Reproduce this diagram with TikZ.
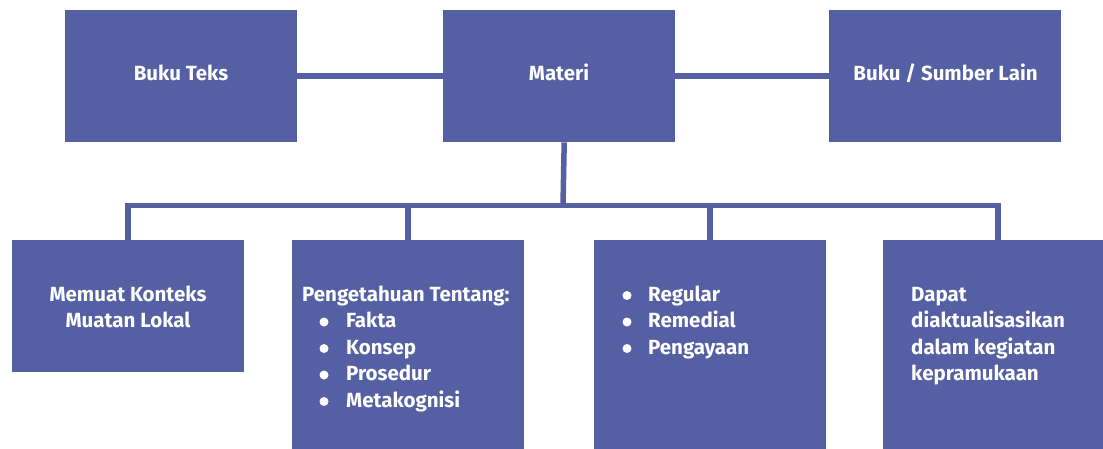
\documentclass[tikz,border=0pt]{standalone}
\usepackage{fontspec}
\setmainfont{Fira Sans}
\usetikzlibrary{calc}
\definecolor{boxblue}{RGB}{84,95,164}
\begin{document}
\begin{tikzpicture}[x=1pt,y=-1pt,
  box/.style={fill=boxblue, draw=none, inner sep=0pt, anchor=north west,
    minimum width=232, minimum height=132},
  tall/.style={box, minimum height=240},
  link/.style={draw=boxblue, line width=5.5pt, line join=miter},
  lbl/.style={text=white, font=\bfseries\fontsize{20.5}{26}\selectfont, inner sep=0pt},
  item/.style={lbl, anchor=base west},
  dot/.style={circle, fill=white, minimum size=9, inner sep=0pt}]
\useasboundingbox (0,0) rectangle (1103,448);

% top row
\node[box] (bt) at (65,10) {};
\node[box] (mat) at (443,10) {};
\node[box] (bs) at (829,10) {};
% bottom row; the three tall boxes run past the lower edge
\node[box] (ml) at (12,240) {};
\node[tall] (pe) at (292,240) {};
\node[tall] (rg) at (594,240) {};
\node[tall] (dp) at (883,240) {};

% connectors
\coordinate (bus) at (563,205.5);
\draw[link] (bt.east) -- (mat.west);
\draw[link] (mat.east) -- (bs.west);
\draw[link] ($(mat.south)+(5,0)$) -- (bus);
\draw[link] (ml.north) -- (ml.north |- bus) -- ($(dp.north |- bus)+(-1,0)$) -- ($(dp.north)+(-1,0)$);
\draw[link] (pe.north |- bus) -- (pe.north);
\draw[link] (rg.north |- bus) -- (rg.north);

% top labels
\node[lbl, anchor=base] (tbt) at (181,80) {Buku Teks};
\node[lbl, anchor=base] (tmat) at (559,80) {Materi};
\node[lbl, anchor=base] (tbs) at (945.5,80) {Buku / Sumber Lain};

% Memuat
\node[lbl, anchor=base] (tml1) at (128,301) {Memuat Konteks};
\node[lbl, anchor=base] (tml2) at (128,327.5) {Muatan Lokal};

% Pengetahuan
\node[item] (tpe) at (302,301) {Pengetahuan Tentang:};
\foreach \t [count=\i] in {Fakta,Konsep,Prosedur,Metakognisi}{
  \node[item] (tpe\i) at (346,301+26.5*\i) {\t};
  \node[dot] (dpe\i) at (324,301+26.5*\i-5.5) {};
}

% Regular
\foreach \t [count=\i] in {Regular,Remedial,Pengayaan}{
  \node[item] (trg\i) at (648,301+26.5*\i-26.5) {\t};
  \node[dot] (drg\i) at (627,301+26.5*\i-26.5-5.5) {};
}

% Dapat
\foreach \t [count=\i] in {Dapat,diaktualisasikan,dalam kegiatan,kepramukaan}{
  \node[item] (tdp\i) at (911,301+26.5*\i-26.5) {\t};
}
\end{tikzpicture}
\end{document}
